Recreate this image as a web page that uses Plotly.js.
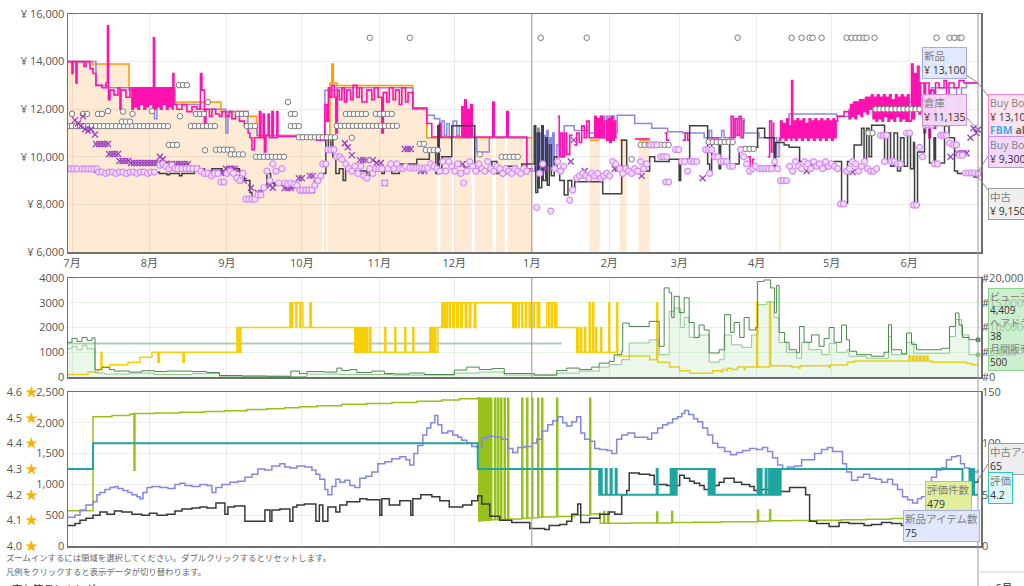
<!DOCTYPE html>
<html><head><meta charset="utf-8">
<script src="https://cdn.plot.ly/plotly-3.0.1.min.js"></script>
<style>html,body{margin:0;padding:0;background:#fff;overflow:hidden}#chart{width:1024px;height:586px}</style>
</head><body><div id="chart"></div>
<script>
// ---------- data (day offsets from 2024-06-29) ----------
const monthTicks = ['2024-07-01','2024-08-01','2024-09-01','2024-10-01','2024-11-01','2024-12-01','2025-01-01','2025-02-01','2025-03-01','2025-04-01','2025-05-01','2025-06-01'];
const monthLabels = ['7月','8月','9月','10月','11月','12月','1月','2月','3月','4月','5月','6月'];
const yearBoundary = '2025-01-01';

const priceTicks = [6000,8000,10000,12000,14000,16000];
const priceTickText = ['¥ 6,000','¥ 8,000','¥ 10,000','¥ 12,000','¥ 14,000','¥ 16,000'];
const salesTicks = [0,1000,2000,3000,4000];
const salesTickText = ['0','1000','2000','3000','4000'];
const rankTicks = [0,5000,10000,15000,20000];
const rankTickText = ['#0','#5,000','#10,000','#15,000','#20,000'];
const reviewTicks = [0,500,1000,1500,2000,2500];
const reviewTickText = ['0','500','1,000','1,500','2,000','2,500'];
const offerTicks = [0,50,100,150];
const offerTickText = ['0','50','100','150'];
const ratingTicks = [4.0,4.1,4.2,4.3,4.4,4.5,4.6];
const ratingTickText = ['4.0','4.1','4.2','4.3','4.4','4.5','4.6'];

const amazonPairs = [[0.4,14000],[10,13900],[24.8,12900],[43.2,12300],[61.6,11900],[72.4,11700],[76,10900],[102.2,null],[102.8,10900],[103.8,null],[104.3,10900],[105.2,13100],[106,13900],[106.6,13100],[108,13000],[138.4,12050],[144,10800],[148.4,null],[149.4,10800],[154,null],[155,10800],[162,null],[163.2,10800],[170.4,null],[171.6,10800],[175.2,null],[176.4,10800],[186.4,null],[209.2,10700],[213.2,null],[221.2,10700],[224,null],[228.8,10700],[233.2,null],[285,10700],[285.8,null]];

const newPairs = [[0.4,14000],[11.6,13000],[16,12900],[24.8,12800],[31,12600],[35,11600],[36,12800],[43.2,12200],[53,12000],[63.6,11000],[64.4,11900],[72.4,11300],[76,10900],[103.2,12800],[108,12900],[138.4,12000],[144,11750],[147,11600],[149.2,10800],[150,11500],[151,10900],[152,11400],[153,10800],[154.5,11500],[156,10900],[157,11300],[158,10800],[162.4,10800],[164,10200],[169,10800],[184,9400],[187.2,11000],[187.8,9400],[188.4,11200],[189,9300],[189.6,11000],[190.2,9500],[190.8,10900],[191.4,9300],[192,11100],[192.6,9600],[193.2,10800],[193.8,9500],[194.4,11000],[195,9800],[196,10500],[197.2,10000],[199,11300],[203,11100],[209,11000],[213.2,10800],[213.4,11700],[214,10800],[214.6,11700],[215.2,10800],[216,11700],[217,10900],[218,11700],[219,11000],[220.2,11750],[227.2,11400],[234,11200],[240.4,11050],[246.4,11000],[255,10800],[257,11100],[258,10800],[262,11100],[263,10800],[267,11600],[271,11000],[277,10800],[284,10000],[285,10800],[289,11800],[308,11700],[313,12000],[323,12300],[338,12600],[346,12900],[356,12400],[357,11600],[358,12900],[360,13100],[364.6,13100]];

const buyBoxPairs = [[0.4,14000],[2,13500],[2.4,14000],[3.6,13100],[4,14000],[6.8,13800],[7.6,14000],[9.2,13700],[10.4,13500],[11.6,13000],[14,12900],[15.6,13100],[16.2,15500],[16.6,12400],[17.2,12800],[18.8,12600],[20.4,12900],[21.2,12000],[21.6,12800],[23.6,12500],[25.2,12900],[26,12000],[26.6,12900],[27.2,12100],[27.8,12900],[28.4,12000],[29,12900],[29.6,12200],[30.2,12900],[30.8,12000],[31.4,12900],[32,12100],[32.6,12900],[33.2,12200],[33.8,12900],[34.4,12000],[34.6,15000],[35,12000],[35.6,12900],[36.2,12100],[36.8,12900],[37.4,12000],[38,12900],[38.6,12200],[39.2,12900],[39.8,12000],[40.4,12900],[41,12100],[41.6,12900],[42.2,12000],[42.4,13500],[42.8,12200],[44,12000],[46,12200],[48,11900],[50,12100],[52,12000],[53.4,13500],[54,12800],[55,11200],[55.6,12000],[57,11700],[58,12000],[59.5,11800],[61,11700],[62,11900],[63.5,11700],[65,11900],[66,11600],[67.5,11800],[69,11500],[71,11300],[72.5,11000],[73.2,10800],[74,10300],[75,10800],[77,11900],[77.6,10800],[78.5,11800],[79,10200],[79.6,10900],[80.5,11800],[81,10800],[82,11900],[82.6,10800],[84,11900],[84.4,10850],[100,10700],[103.2,12200],[104,11500],[104.6,12900],[105.2,12500],[106,13000],[107,12500],[107.6,11000],[108.2,12800],[109,12400],[110,12900],[111,12300],[112,12800],[113.5,12400],[114.5,13000],[116,12500],[117,12900],[118,12300],[120,12800],[122,12400],[123,12900],[124.5,12500],[126,11000],[126.6,12700],[128,12300],[129,12900],[130.5,12400],[131.5,12800],[133,12200],[134,12900],[135.5,12300],[136.5,12700],[138.4,12050],[144,11400],[146,10830],[149,11400],[149.6,10830],[158,12100],[158.6,10830],[159.2,12400],[159.8,10830],[160.4,12000],[161,10830],[161.6,12200],[162.2,10830],[170.4,12300],[171,10830],[176,11900],[176.6,10830],[184,9500],[186.4,null],[196.4,11700],[197,10000],[197.6,11000],[198.4,10000],[199.2,11000],[200,10100],[201.2,10900],[202.4,null],[203,10500],[204,11000],[205,10600],[206,11300],[207,10800],[208,11500],[209,10800],[211.2,11700],[211.8,10800],[212.4,11600],[213,10800],[213.6,11700],[214.2,10800],[215,11500],[216,10700],[216.6,11600],[217.2,10600],[217.8,11700],[218.4,10700],[219,11500],[219.6,10800],[220.2,null],[227.2,10750],[233.2,null],[239.2,11000],[240,10700],[241,null],[246.4,10700],[247.4,11000],[248.4,10700],[249.2,null],[257,10800],[261,null],[265,10800],[265.8,11700],[266.6,10800],[267.4,11600],[268.2,10900],[269,11700],[269.8,10800],[270.6,11500],[271.2,null],[272.4,10000],[273.4,9400],[274.4,9900],[275.2,null],[280.4,10000],[281.2,11500],[282,10200],[282.8,11400],[283.2,null],[285,10700],[285.6,11500],[286.2,10800],[286.8,11400],[287.4,10700],[288,11600],[288.6,10800],[289.2,11300],[289.8,10700],[290,13200],[290.4,10800],[291,11500],[291.6,10700],[292.2,11600],[292.8,10800],[293.4,11500],[294,10700],[294.6,11600],[295.2,10800],[295.8,11400],[296.4,10700],[297,11600],[297.6,10800],[298.2,11500],[298.8,10700],[299.4,11600],[300,10800],[300.6,11500],[301.2,10700],[301.8,11600],[302.4,10800],[303,11500],[303.6,10700],[304.2,11600],[304.8,10800],[305.4,11500],[306,10700],[306.6,11600],[307.2,10800],[307.8,11500],[308.4,11700],[311,11900],[313,11600],[313.6,12200],[314.2,11700],[314.8,12300],[315.4,11600],[316,12300],[316.6,11800],[317.2,12400],[317.8,11700],[318.4,12400],[319,11900],[319.6,12500],[320.2,11800],[320.8,12500],[321.4,12000],[322,12600],[322.6,11600],[323.2,12500],[323.8,11500],[324.4,12600],[325,11600],[325.6,12500],[326.2,11500],[326.8,12600],[327.4,11700],[328,12500],[328.6,11500],[329.2,12600],[329.8,11600],[330.4,12400],[331,11500],[331.6,12600],[332.2,11700],[332.8,12500],[333.4,11500],[334,12600],[334.6,11600],[335.2,12500],[335.8,11500],[336.4,12600],[337,11500],[338,13900],[338.6,11600],[339.2,13500],[339.8,12000],[340.4,13800],[341,11800],[341.6,13100],[343,11000],[343.6,13100],[345,10800],[345.6,12800],[347,11200],[347.6,13100],[349,12900],[351,13200],[352,12500],[353,13100],[355,12900],[357,13200],[359,13100],[364.6,13100]];

const usedPairs = [[0.4,9450],[11,9350],[37,9300],[40,9250],[41,9300],[45,9200],[46,9300],[51,9500],[55,9300],[58,9500],[62,9300],[66,9500],[69,9400],[71,9000],[73.2,8500],[74,8300],[78,8700],[80,9300],[81.5,8900],[83,8800],[87,8700],[93,8500],[99,9000],[101,9300],[103.6,10800],[104.6,10200],[105.6,10800],[106.4,10000],[107.6,9300],[109,9500],[110.5,9000],[111.5,9500],[113,9400],[120,9200],[121,9400],[126,9300],[127,9500],[130,9300],[133,9700],[140,9900],[145,10200],[147.6,9300],[148.4,11300],[149,9500],[150,10000],[154,11300],[163.2,9500],[165,9400],[170,9800],[172,9300],[176,9600],[180,9400],[182,9700],[187,11300],[187.6,8500],[188.4,11000],[189,8700],[190,11300],[190.6,9000],[191.6,10800],[192.2,8800],[193,10500],[193.8,9200],[195,10000],[196,9500],[197.2,9000],[199,8400],[200.5,9000],[202,8600],[203.2,8950],[214.4,8450],[222,10700],[224,9400],[233.2,10000],[235.2,9800],[241,9900],[245,9000],[245.6,9900],[249.2,11300],[256.4,9700],[257.2,9300],[258,10700],[261,9500],[261.6,10700],[265.2,9700],[269,10400],[276.4,11200],[279.2,10800],[283,9600],[283.6,10600],[287,10500],[289,10400],[293.2,9800],[297,9500],[298,9800],[300,9600],[303,9500],[305,9700],[307,9800],[310,8060],[312.4,9800],[315,10500],[318,11200],[319,9800],[320,11200],[321,10000],[322,11330],[327.2,9800],[328.4,11000],[329.6,9600],[331,11000],[332.4,9400],[333.6,10800],[335,9600],[336.4,11000],[337.6,9500],[338.8,10600],[339.2,7970],[340.4,10200],[343.2,11300],[345.2,9740],[347,10800],[347.6,9740],[351.2,11300],[353,10800],[355.2,9400],[356.4,9300],[363,9150],[364.6,9150]];

const grayCirclePairs = [[0.4,11290],[2,11290],[3.6,11290],[5.2,11290],[6.8,11290],[8.4,11290],[10,11290],[11.6,11290],[13.2,11290],[14.8,11290],[16.4,11290],[18,11290],[19.6,11290],[21.2,11290],[22.8,11290],[24.4,11290],[26,11290],[27.6,11290],[29.2,11290],[30.8,11290],[32.4,11290],[34,11290],[35.6,11290],[37.2,11290],[38.8,11290],[40.4,11290],[2,11800],[6.4,11800],[8,11800],[12.4,11800],[14,11800],[16.4,11920],[22.4,11900],[26.2,11800],[34,11920],[22,11480],[23.6,11480],[25.2,11480],[40.8,10500],[42.4,10500],[44,10500],[44.8,13010],[46.4,13010],[48,13010],[45.2,11700],[49.6,11290],[51.2,11290],[52.8,11290],[54.4,11290],[56,11290],[57.6,11290],[59.2,11290],[51.6,11800],[53.2,11800],[54.8,11800],[56.4,12300],[55.2,10280],[59.6,10300],[61.2,10300],[62.8,10300],[64.4,10300],[66,10300],[65.6,10100],[67.2,10100],[68.8,10100],[70.4,10100],[68.4,11800],[70,11800],[71.6,11800],[72,11290],[73.6,11290],[75.2,11290],[75.6,10000],[77.2,10000],[78.8,10000],[80.4,10000],[82,10000],[83.6,10000],[85.2,10000],[86.8,10000],[88.4,12300],[89.6,11800],[91.2,11800],[89.6,11290],[91.2,11290],[92.8,11290],[92.8,10820],[94.4,10820],[96,10820],[97.6,10820],[99.2,10820],[100.8,10820],[102.4,10820],[104,10820],[105.6,10820],[107.2,10820],[108,11300],[109.6,11300],[111.2,11300],[112.8,11300],[114.4,11300],[116,11300],[117.6,11300],[119.2,11300],[120.8,11300],[122.4,11300],[124,11300],[125.6,11300],[127.2,11300],[128.8,11300],[130.4,11300],[132,11300],[111.6,11800],[113.2,11800],[114.8,11800],[116.4,11800],[118,11800],[119.6,11800],[123.6,11800],[125.2,11800],[126.8,11800],[128.4,11800],[130,11800],[114,10800],[121.2,15000],[137.2,15000],[141.2,10540],[142.8,10540],[143.6,10280],[145.2,10280],[146.8,10280],[148.4,10280],[165.2,10100],[174,10000],[175.6,10000],[177.2,10000],[178.8,10000],[180.4,10000],[189.6,15000],[208,15000],[226,9900],[229.6,10500],[231.2,10500],[232.8,10500],[234.4,10500],[236,10500],[237.6,10500],[239.2,10500],[240.8,10500],[256.8,10620],[258.4,10620],[260,10620],[261.6,10620],[263.2,10620],[264.8,10620],[266.4,10620],[268.4,15000],[271.6,10330],[273.2,10330],[274.8,10330],[290,15000],[294,15000],[297.2,15000],[298.4,15000],[302,15000],[312,15000],[314,15000],[315.6,15000],[317.2,15000],[318.8,15000],[320,15000],[323.2,15000],[348,15000],[353.2,15000],[355.2,15000],[357.2,15000],[358,15000],[320.8,11000],[322.4,11000],[323.6,12000],[325.2,12000],[326.8,12000],[328.4,12000],[330,12000],[331.6,12000],[333.2,12000],[334.8,12000],[336.4,12000],[338,12000],[339.6,12000],[341.2,12000],[343.6,11400],[345.2,11400],[346.8,11400],[348.4,11400],[350,11400],[351.6,11400],[353.2,11400]];

const usedBuyBoxPairs = [[0.4,9490],[1.6,9490],[2.8,9490],[4,9490],[6,9490],[7.2,9490],[8.4,9490],[9.6,9490],[10.8,9490],[12,9490],[12.6,9360],[14,9360],[15.4,9300],[16.8,9360],[18.2,9360],[19.6,9300],[21,9360],[22.4,9360],[23.8,9300],[25.2,9360],[26.6,9360],[28,9300],[29.4,9360],[30.8,9360],[32.2,9300],[33.6,9360],[35,9360],[37.2,9650],[38.4,9700],[39.6,9600],[40.8,9500],[42,9650],[43.2,9500],[44.4,9500],[46,9500],[47.6,9500],[49,9500],[50.4,9500],[52,9500],[53.6,9400],[55,9300],[56.4,9300],[57.8,9200],[59,9300],[60.4,9300],[61.6,8940],[62.8,8940],[64,9300],[65.4,9400],[66.6,9300],[68,9100],[69.2,9000],[70.4,9300],[71.6,8220],[72.8,8220],[74,8220],[75.2,8220],[76.4,8400],[77.6,8400],[78.8,8700],[80,9400],[81.2,9000],[82.4,9700],[83.6,9400],[84.8,8900],[86,9500],[87.2,8900],[88.4,8850],[89.6,8900],[90.8,8850],[92,8800],[93.2,8600],[94.4,8600],[95.6,8600],[96.8,8600],[98,8600],[99.2,8800],[100.4,9000],[101.6,9200],[102.4,9700],[103.6,9700],[104.4,10300],[105.6,10300],[106.8,10300],[108,10000],[109.2,10000],[110,9900],[111.6,9700],[112.8,9500],[114,9400],[115.2,9600],[116.4,9300],[117.6,9600],[118.8,9200],[120,9100],[121.2,9500],[122.4,9300],[123.6,9500],[124.8,9500],[126,9500],[127.2,8900],[128.4,9500],[129.6,9700],[130.8,9500],[132,9700],[133.2,9500],[134.4,9500],[135.6,9600],[137.2,9530],[138.4,9530],[139.6,9530],[140.8,9530],[142,9530],[143.2,9530],[144.4,9530],[145.6,9700],[146.8,9600],[148,9500],[149.2,9400],[150.4,9800],[151.6,9400],[152.8,9800],[154,9600],[155.2,9400],[156.4,9700],[157.6,9300],[158.8,8900],[160,9400],[161.2,9800],[162.4,9600],[163.6,9400],[164.8,9700],[166,9500],[167.2,9400],[168.4,9800],[169.6,9500],[170.8,9400],[172,9600],[173.2,9500],[174.4,9300],[175.6,9500],[176.8,9400],[178,9300],[179.2,9500],[180.4,9400],[181.6,9300],[182.8,9500],[184,9400],[188,7870],[189.2,9300],[190.4,9700],[193.6,7720],[195.2,9500],[196.4,9800],[197.6,9400],[198.8,9600],[201.2,8180],[202.4,8600],[204,9100],[205.2,9200],[206.4,9300],[207.6,9200],[208.8,9100],[210,9300],[211.2,9200],[212.4,9300],[213.6,9100],[214.8,9200],[216,9300],[217.2,9200],[218.4,9800],[219.6,9700],[221.2,9500],[222.4,9300],[223.6,9500],[224.8,9400],[226,9300],[227.2,9500],[228.4,9400],[229.6,9800],[230.8,9500],[232,9700],[233.6,10500],[234.8,10500],[236,10500],[237.6,10000],[238.8,10000],[240,10000],[239.6,8940],[240.8,8940],[243.6,10300],[244.8,10300],[246,9800],[247.2,9800],[248.4,9400],[249.6,9800],[250.8,9800],[252,9800],[255.6,10300],[256.8,10300],[258,10300],[259.2,10000],[260.4,10000],[257.2,9300],[261.6,9800],[262.8,9800],[264,9800],[265.2,9600],[266.4,9600],[269.6,10300],[270.8,10000],[272,9700],[273.2,9400],[274.4,9500],[275.6,9600],[277.2,9500],[278.4,9500],[279.6,9500],[280.8,9500],[282,9500],[283.2,9800],[284.4,9500],[285.6,9000],[286.8,9000],[288,9000],[289.2,9600],[290.4,9400],[291.6,9800],[292.8,9600],[294,9500],[295.2,9800],[296.4,9700],[297.6,9500],[298.8,9800],[300,9600],[301.2,9700],[302.4,9500],[303.6,9800],[304.8,9600],[306,9700],[307.2,9600],[308.4,9500],[309.6,8020],[310.8,8020],[312,9400],[313.2,9500],[314.4,9800],[315.6,9700],[316.8,9400],[318,9600],[319.2,9800],[320.4,9500],[321.6,9400],[322.8,9400],[324,9500],[325.6,10900],[326.8,10900],[328,10900],[327.2,9800],[330,9800],[331.2,9800],[332.4,9700],[333.6,9700],[336,11000],[337.2,11000],[338.8,7970],[340,7970],[341.2,10400],[342.4,10000],[343.6,11330],[344.8,11330],[346,11330],[347.2,9700],[348.4,9700],[349.6,10900],[350.8,10900],[352,10900],[353.2,10570],[354.8,10500],[356,10500],[357.2,10070],[358.4,10070],[359.6,9320],[360.8,9320],[362,9320],[363.2,9320],[364.6,9300]];

const warehousePairs = [[3.2,11540],[4.4,11400],[5.6,11300],[6.4,11700],[7.2,11160],[8.4,11100],[9.6,11160],[11.2,10940],[11.6,10540],[12.8,10540],[14,10540],[15.2,10540],[16.4,10540],[16.8,10120],[18,10120],[19.2,10120],[20.4,10120],[21,9820],[22.2,9820],[23.4,9820],[24.6,9820],[25.6,9740],[26.8,9740],[28,9740],[29.2,9740],[30.4,9740],[31.6,9740],[32.8,9740],[34,9740],[35.2,9740],[36.4,9740],[37.2,10000],[38.4,9900],[39.6,9700],[40.8,9700],[42,9700],[43.6,9700],[44.8,9700],[46,9700],[47.2,9700],[48.4,9700],[49.6,9500],[50.8,9500],[52,9500],[55.6,9320],[56.8,9320],[58,9320],[59.2,9320],[60.4,9320],[61.6,9320],[63.6,9500],[64.8,9500],[66,9500],[67.2,9500],[69.6,9300],[70.8,9000],[73.6,8700],[76.4,8480],[77.6,8480],[81.2,8800],[82.4,8700],[87.2,8690],[88.4,8690],[89.6,8690],[92.8,9100],[94,9100],[97.2,9200],[98.4,9200],[111.2,10570],[112.4,10400],[114,10070],[117.2,9860],[118.4,9860],[119.6,9860],[122.4,9860],[124,9740],[125.6,9740],[127.2,8900],[135.2,10330],[136.4,10330],[137.6,10330],[141.6,9400],[143,9400],[158.4,9700],[159.6,9500],[191.6,9500],[201.6,9800],[202.8,10700],[207.2,9400],[219.2,9500],[220.4,9500],[223.6,9500],[230,9200],[254.4,9100],[296,9400],[314.4,9360],[353.6,10000],[356.4,10150],[357.6,10150],[358.8,10150],[360,10150],[361.6,10800],[362.8,11200],[364,11000],[364.6,11135]];

const monthlySoldPairs = [[0.4,100],[8.4,200],[12.4,300],[13.6,1000],[14,400],[17.2,500],[24.4,600],[29.2,800],[34,1000],[36.4,600],[37,1000],[46.4,600],[47,1000],[68,2000],[68.4,1000],[68.8,2000],[69.2,1000],[69.6,2000],[89.2,3000],[89.8,2000],[90.4,3000],[91.6,2000],[92,3000],[93.2,2000],[93.6,3000],[94.4,2000],[97.2,3000],[97.8,2000],[115.2,1000],[115.6,2000],[116,1000],[116.4,2000],[116.8,1000],[117.4,2000],[117.8,1000],[118.4,2000],[119,1000],[119.6,2000],[120.2,1000],[121,2000],[121.6,1000],[127.2,2000],[127.6,1000],[131.2,2000],[131.6,1000],[135.2,2000],[135.6,1000],[138.4,2000],[138.8,1000],[145.2,2000],[145.6,1000],[146,2000],[146.6,1000],[147.2,2000],[147.6,1000],[148.4,2000],[150,3000],[150.6,2000],[151,3000],[151.6,2000],[152.2,3000],[153,2000],[153.4,3000],[154.4,2000],[155,3000],[156,2000],[156.6,3000],[157.6,2000],[158.2,3000],[159.4,2000],[160,3000],[161,2000],[161.6,3000],[163,2000],[163.6,3000],[178.4,2000],[178.8,3000],[179.4,2000],[179.8,3000],[180.6,2000],[181,3000],[182,2000],[182.4,3000],[183.4,2000],[183.8,3000],[185,2000],[185.4,3000],[186.6,2000],[187,3000],[188.2,2000],[188.6,3000],[189.2,2000],[192,3000],[192.8,2000],[193.2,3000],[194,2000],[194.4,3000],[195.2,2000],[195.6,3000],[196,2000],[204,1000],[204.4,2000],[204.8,1000],[205.6,2000],[206,1000],[207.2,2000],[207.6,1000],[209,3000],[209.4,1000],[210.4,3000],[210.8,1000],[211.6,2000],[212,1000],[213.6,2000],[214,1000],[216.8,3000],[217.2,1000],[220,3000],[220.4,850],[233.2,700],[236,3000],[236.4,600],[241.2,400],[245.2,250],[249.2,150],[258.4,250],[262,200],[262.4,300],[264,250],[264.4,350],[266,300],[268.4,400],[271,300],[271.4,400],[276,3000],[276.4,400],[281.2,3000],[281.6,450],[290,400],[293,350],[293.4,450],[300,450],[305,380],[305.4,480],[311,500],[312.4,600],[315,650],[337,850],[337.6,650],[338.4,850],[339,650],[339.8,850],[340.4,650],[341.2,850],[341.8,650],[342.6,850],[343.2,650],[344,850],[344.6,650],[346,600],[355,600],[360,550],[362,500],[364.6,500]];

const referencePairs = [[0.4,1350],[198,1350]];

const categoryRankPairs = [[0.4,7000],[2,7800],[4,7200],[6,8000],[8,7400],[10,7900],[11.2,1470],[14,1900],[17,1500],[19,1200],[25,1000],[30,1270],[35,1100],[40,1200],[50,1100],[56,900],[61,300],[70,200],[80,150],[89.6,1200],[93,700],[96,1100],[103,1000],[108,1800],[110,1300],[113,1500],[116,900],[122,1200],[127,700],[131,600],[137,800],[143,500],[155,1400],[160,2000],[165,1500],[170,1700],[175,700],[187,400],[196,1300],[200,1800],[205,1500],[210,2000],[213,2800],[217,3150],[219,4500],[222,5200],[222.4,10900],[225,10200],[233,11240],[237,6200],[239,18000],[241,17000],[242,12000],[243,16300],[245,13000],[247,16000],[249,11000],[251,8000],[253,10500],[255,9500],[257,4850],[261,5500],[263.2,12600],[265.6,9000],[267,11000],[269.2,8000],[271,12000],[273,9500],[275.6,10000],[276.4,19300],[279,19600],[281.6,18000],[283.2,13000],[284,18500],[285,9000],[287.2,7000],[289,5500],[292,4900],[293.2,10200],[295,7000],[298,8500],[301,6200],[303,7800],[305,10000],[307,7000],[310,10500],[312,7500],[313.2,5200],[316,4500],[322,4200],[327,5000],[328.8,10560],[330,5500],[334,4700],[336,8900],[338,6600],[340,5500],[350,5800],[353.2,10200],[355.6,12930],[357,10500],[358.4,8000],[361,7540],[364.6,7540]];

const beautyRankPairs = [[0.4,5800],[2,6200],[4,5500],[6,6400],[8,5700],[11.2,800],[15,600],[25,800],[35,500],[50,700],[61,150],[88,100],[96,600],[110,500],[130,400],[155,800],[165,1000],[175,400],[196,800],[205,1200],[213,2000],[217,2500],[222,3500],[225,6870],[233,7500],[237,4500],[241,13250],[243,13940],[245.6,10000],[247,12000],[249,8000],[253,8500],[257,3000],[261,3500],[263,8500],[266,6500],[270,6000],[274,8500],[276.4,14600],[280,15200],[283,12000],[285,7000],[288,5000],[292,3800],[294,7000],[297,5500],[302,4500],[305,6800],[308,5000],[312,5500],[313,4200],[320,3800],[328.8,8200],[330,4500],[336,7000],[339,4800],[350,4800],[353.2,8200],[355.6,11600],[358,8500],[361,4500],[364.6,4500]];

const reviewCountPairs = [[0.4,573],[10.4,2100],[18,2120],[25,2140],[26.6,2150],[26.8,1230],[27.2,2150],[35,2160],[45,2170],[55,2185],[63,2196],[72,2215],[80,2230],[87,2245],[93,2260],[100,2275],[110,2300],[120,2315],[130,2330],[140,2350],[150,2370],[157,2390],[164.4,2407],[164.8,406],[165.4,2400],[165.8,410],[166.4,2400],[166.8,415],[167.2,2400],[167.8,420],[168.4,2400],[169,420],[169.4,2400],[170,425],[171.2,2400],[171.6,425],[172.4,2400],[172.8,430],[173.6,2400],[174,430],[175,2400],[175.4,435],[176.4,2400],[176.8,440],[182,2400],[182.4,450],[184,2400],[184.4,455],[186,2400],[186.4,460],[188.4,2400],[188.8,465],[190,2400],[190.4,470],[196,2400],[196.4,480],[203,500],[209.2,2400],[209.6,520],[213,530],[213.4,368],[214.8,560],[215.2,370],[216.4,560],[216.8,370],[225,372],[236,550],[236.4,375],[242,560],[242.4,380],[250,385],[262,392],[276.4,580],[276.8,400],[281.2,590],[281.6,410],[290,415],[300,420],[310,428],[320,436],[330,445],[340,452],[347,460],[355,468],[364.6,479]];

const ratingPairs = [[0.4,4.3],[10.4,4.4],[164.4,4.3],[213,4.2],[213.6,4.3],[214,4.2],[215.6,4.3],[216,4.2],[217.6,4.3],[218,4.2],[219.6,4.3],[220,4.2],[236,4.3],[236.4,4.2],[241.6,4.3],[242,4.2],[242.4,4.3],[242.8,4.2],[243.2,4.3],[243.6,4.2],[244,4.3],[256.8,4.2],[257.2,4.3],[257.6,4.2],[258,4.3],[258.4,4.2],[258.8,4.3],[259.2,4.2],[276.4,4.3],[276.8,4.2],[277.6,4.3],[278,4.2],[279.6,4.3],[280,4.2],[281,4.3],[281.4,4.2],[282,4.3],[282.4,4.2],[283.2,4.3],[283.6,4.2],[284.4,4.3],[284.8,4.2],[285.6,4.3],[358.4,4.2],[361.2,4.3],[362,4.2],[362.4,4.3],[363,4.2],[364.6,4.2]];

const newOfferPairs = [[0.4,28],[3.2,30],[5.2,35],[7.6,40],[10.4,43],[12,50],[13.2,52],[15.2,55],[17.2,57],[19.2,58],[20.4,56],[22.4,54],[24.4,52],[26,50],[28,48],[29.2,46],[30.4,52],[32,57],[34,58],[37.2,57],[40.4,56],[43.2,60],[45.2,61],[47.2,59],[50,58],[53.2,60],[56,59],[58,52],[59.6,57],[62,60],[65.2,62],[68.4,63],[71.2,67],[74,70],[76.4,75],[79.2,74],[82,78],[85.2,80],[87.2,77],[89.2,76],[92,78],[95.2,77],[98,74],[99.6,70],[101.2,65],[103.2,55],[104.4,50],[106,58],[107.6,65],[109.2,62],[111.2,64],[113.2,59],[115.2,57],[117.2,66],[119.6,68],[122,72],[124.4,80],[127.2,82],[130,85],[133.2,87],[135.6,84],[137.2,79],[138.8,90],[140.4,98],[142.4,108],[144,115],[145.6,120],[147.2,127],[148.4,118],[150,110],[152.4,112],[154.4,108],[156.4,106],[158,103],[160,100],[162,97],[164,96],[166,105],[168,107],[171.2,106],[174,104],[176.4,95],[178.4,91],[180.4,96],[183.2,97],[186,100],[188,104],[190,112],[192.4,118],[194.4,122],[196.4,126],[198.4,120],[200,117],[202,121],[204,126],[205.6,110],[207.2,104],[209.2,102],[211.2,95],[213.2,94],[216,93],[218,90],[220,104],[222,108],[224.4,110],[227.2,106],[230,106],[232.4,104],[234,110],[236.4,115],[238.4,118],[240.4,120],[242.4,124],[244.4,126],[246,129],[247.2,132],[248.8,128],[250.8,124],[252.4,121],[254.4,115],[256.4,108],[258.4,100],[260.4,96],[263.2,92],[265.6,89],[268,91],[270.4,93],[273.2,95],[276,94],[278.4,96],[280.4,92],[282.4,86],[284.4,79],[286.4,75],[288.4,77],[291.2,78],[294,84],[296.4,84],[299.2,90],[302,94],[304.4,96],[306.4,92],[308.4,92],[310.4,80],[312,72],[314,64],[316.4,67],[318.8,70],[321.2,66],[323.6,65],[326,62],[328.4,65],[330.4,60],[332.4,55],[334.4,48],[336.4,45],[338.4,42],[340.4,46],[342,48],[344,58],[346,67],[348,74],[350,76],[352,84],[354,87],[356,88],[357.6,80],[359.2,76],[361.2,74],[363.2,72],[364.6,75]];

const usedOfferPairs = [[0.4,20],[3.2,22],[5.2,25],[7.6,27],[10.4,30],[13.2,33],[16,31],[19,34],[22,33],[26,31],[30,30],[33,32],[36,30],[40,31],[43.2,34],[46,36],[50,37],[53.2,38],[56,37],[59.6,42],[63.2,31],[64.4,38],[67,39],[71.2,24],[76.4,24],[79.2,35],[81.2,24],[82,35],[85.2,36],[89.2,24],[90.4,38],[92,40],[95,41],[99.6,24],[101,40],[102.4,24],[104.4,38],[107.6,33],[109.2,40],[112,43],[117.2,46],[120,45],[125.2,30],[126,46],[129,40],[133.2,44],[137.6,30],[138.4,46],[141.6,50],[146,48],[149.2,44],[153,38],[158.4,40],[162,44],[164.4,49],[166,41],[169.2,29],[173.2,25],[178,23],[185.2,17],[191.2,16],[193,20],[197.2,21],[200,24],[202,31],[204.4,41],[205.6,23],[209.2,27],[213.2,31],[217,33],[219.2,31],[222,50],[224,54],[225,71],[229,70],[233.2,69],[235,60],[240,59],[245.2,69],[247,66],[249.2,63],[251,61],[253.2,59],[255,55],[257.2,59],[261,62],[263,66],[267,62],[270,60],[273.2,58],[275,54],[278,55],[283,53],[286,53],[289.2,57],[294,57],[295.6,50],[297.2,24],[300,22],[305,19],[309,23],[313,22],[319,20],[322,21],[326,23],[330,22],[334,20],[338,22],[342,25],[344,37],[346,30],[350,28],[356,40],[357.6,58],[361.2,62],[364.6,65]];

// ---------- helpers ----------
const START = Date.UTC(2024,5,29);
function toDate(d){ return new Date(START + d*86400000).toISOString().slice(0,19).replace('T',' '); }
function stepXY(pairs){ const x=[],y=[]; let prev=null; for(const p of pairs){ if(p[1]===null && prev!==null){ x.push(toDate(p[0])); y.push(prev);} x.push(toDate(p[0])); y.push(p[1]); prev=p[1]; } return {x,y}; }
function ptsXY(pairs){ return {x:pairs.map(p=>toDate(p[0])), y:pairs.map(p=>p[1])}; }
function lastOf(pairs){ const p=pairs[pairs.length-1]; return {x:[toDate(p[0])], y:[p[1]]}; }
function splitSegments(pairs){ const out=[]; let cur=[]; for(const p of pairs){ if(p[1]===null){ if(cur.length){ cur.push([p[0], cur[cur.length-1][1]]); out.push(cur); cur=[]; } } else cur.push(p); } if(cur.length) out.push(cur); return out; }

const FONT = "'Open Sans','Noto Sans CJK JP',sans-serif";
const tickFont = {family:FONT, size:11, color:'#555'};
const W=1024, H=586;
const px = v => v/W, py = v => 1 - v/H;

function line(pairs, color, width, xa, ya, extra){ const d=stepXY(pairs); return Object.assign({type:'scatter', mode:'lines', x:d.x, y:d.y, xaxis:xa, yaxis:ya, line:{color:color, width:width, shape:'hv'}, connectgaps:false, hoverinfo:'skip'}, extra||{}); }
function marks(pairs, symbol, size, fill, outline, lw, xa, ya){ const d=ptsXY(pairs); return {type:'scatter', mode:'markers', x:d.x, y:d.y, xaxis:xa, yaxis:ya, marker:{symbol:symbol, size:size, color:fill, line:{color:outline, width:lw}}, hoverinfo:'skip'}; }

const amazonTraces = splitSegments(amazonPairs).map(s => line(s, '#ff9900', 1.5, 'x', 'y', {fill:'tozeroy', fillcolor:'rgba(255,150,50,0.2)'}));

const traces = amazonTraces.concat([
  line(newPairs, '#8a8ae2', 1.5, 'x', 'y'),
  line(buyBoxPairs, '#ff12b0', 1.6, 'x', 'y'),
  line(usedPairs, '#404040', 1.5, 'x', 'y'),
  marks(grayCirclePairs, 'circle', 5.5, '#ffffff', '#7a7a7a', 1, 'x', 'y'),
  marks(warehousePairs, 'x-thin', 6, '#9b3fc0', '#9b3fc0', 1.3, 'x', 'y'),
  marks(usedBuyBoxPairs, 'circle', 6, '#f6dcff', '#d48cf5', 1.2, 'x', 'y'),

  line(referencePairs, 'rgba(150,190,150,0.75)', 2, 'x2', 'y3'),
  line(beautyRankPairs, '#8ec98e', 1, 'x2', 'y4', {fill:'tozeroy', fillcolor:'rgba(150,215,150,0.2)'}),
  line(categoryRankPairs, '#4c874c', 1, 'x2', 'y4'),
  line(monthlySoldPairs, '#f8cf06', 1.5, 'x2', 'y3'),
  Object.assign({type:'scatter', mode:'markers', xaxis:'x2', yaxis:'y4', marker:{size:5, color:'#4c874c'}, hoverinfo:'skip'}, lastOf(categoryRankPairs)),
  Object.assign({type:'scatter', mode:'markers', xaxis:'x2', yaxis:'y4', marker:{size:5, color:'#8ec98e'}, hoverinfo:'skip'}, lastOf(beautyRankPairs)),

  line(reviewCountPairs, '#97c21c', 1.5, 'x3', 'y5'),
  line(ratingPairs, '#1fa4a0', 2, 'x3', 'y7'),
  line(newOfferPairs, '#8585e2', 1.5, 'x3', 'y6'),
  line(usedOfferPairs, '#383838', 1.5, 'x3', 'y6')
]);

const X0 = 68/W, X1 = 981/W;
const xRange = [toDate(0.4), toDate(365.8)];
const frame = {showline:true, mirror:true, linecolor:'#6f6f6f', linewidth:1.5, zeroline:false, automargin:false, ticks:''};
const xBase = Object.assign({domain:[X0,X1], type:'date', range:xRange, tickmode:'array', tickvals:monthTicks, ticktext:monthLabels, showgrid:true, gridcolor:'#eaeaea', tickfont:tickFont}, frame);

const box = (x, y, text, bg, border, size) => ({xref:'paper', yref:'paper', x:px(x), y:py(y), xanchor:'left', yanchor:'top', text:text, showarrow:false, align:'left', bgcolor:bg, bordercolor:border, borderwidth:1, borderpad:1, font:{family:FONT, size:size||10.5, color:'#333'}});
const t = s => '<span style="color:#808080">'+s+'</span>';

const annotations = [
  box(922, 47, t('新品')+'<br>¥ 13,100', 'rgba(226,232,252,0.95)', '#a3abee'),
  box(922, 94, t('倉庫')+'<br>¥ 11,135', 'rgba(244,214,246,0.95)', '#d08fd9'),
  box(988, 94, t('Buy Box')+'<br>¥ 13,100<br><b><span style="color:#4aa8e8">FBM</span> <span style="color:#666">ale</span></b>', '#ffe3f1', '#ff86c6'),
  box(988, 136, t('Buy Box')+'<br>¥ 9,300', '#f2d8ff', '#c48bf0'),
  box(988, 188, t('中古')+'<br>¥ 9,150', '#efefef', '#9b9b9b'),
  box(988, 288, t('ビューティー')+'<br>4,409<br>'+t('ヘアドライヤー')+'<br>38<br>'+t('月間販売数')+'<br>500', 'rgba(185,232,185,0.72)', '#8fcf8f', 10),
  box(988, 443, t('中古アイテム数')+'<br>65', 'rgba(236,236,236,0.95)', '#9b9b9b'),
  box(988, 472, t('評価')+'<br>4.2', '#dcf7f5', '#36c3bd'),
  box(925, 481, t('評価件数')+'<br>479', '#e1ee9e', '#b5d14b'),
  box(903, 510, t('新品アイテム数')+'<br>75', 'rgba(224,230,252,0.95)', '#a6aef0'),
  {xref:'paper', yref:'paper', x:px(4), y:py(557), xanchor:'left', yanchor:'middle', showarrow:false, text:'ズームインするには領域を選択してください。ダブルクリックするとリセットします。', font:{family:FONT, size:8.4, color:'#666'}},
  {xref:'paper', yref:'paper', x:px(4), y:py(571), xanchor:'left', yanchor:'middle', showarrow:false, text:'凡例をクリックすると表示データが切り替わります。', font:{family:FONT, size:8.4, color:'#666'}},
  {xref:'paper', yref:'paper', x:px(4), y:py(580), xanchor:'left', yanchor:'top', showarrow:false, text:'- 売れ筋ランキング', font:{family:FONT, size:10.5, color:'#333'}},
  {xref:'paper', yref:'paper', x:px(984), y:py(578), xanchor:'left', yanchor:'top', showarrow:false, text:'+ 6月', font:{family:FONT, size:11, color:'#333'}}
];

const seg = (x0,y0,x1,y1,c,w) => ({type:'line', xref:'paper', yref:'paper', x0:px(x0), y0:py(y0), x1:px(x1), y1:py(y1), line:{color:c||'#8a8a8a', width:w||1}});
const shapes = [
  {type:'line', xref:'x', yref:'y domain', x0:yearBoundary, x1:yearBoundary, y0:0, y1:1, line:{color:'#a8a8a8', width:1.2}},
  {type:'line', xref:'x2', yref:'y3 domain', x0:yearBoundary, x1:yearBoundary, y0:0, y1:1, line:{color:'#a8a8a8', width:1.2}},
  {type:'line', xref:'x3', yref:'y5 domain', x0:yearBoundary, x1:yearBoundary, y0:0, y1:1, line:{color:'#a8a8a8', width:1.2}},
  seg(978, 14, 978, 586, '#9a9a9a', 1),
  seg(980, 572, 1024, 572, '#cfcfcf', 1),
  seg(965, 74, 978, 83), seg(978, 83, 988, 96),
  seg(966, 117, 978, 130),
  seg(978, 172, 988, 156),
  seg(978, 177, 988, 190),
  seg(978, 480, 988, 464),
  seg(966, 505, 978, 517)
];

const starText = ratingTickText.map(s => s + ' <span style="color:#f4b400;font-size:13px">★</span>');

const layout = {
  width:W, height:H, margin:{l:0,r:0,t:0,b:0}, paper_bgcolor:'#ffffff', plot_bgcolor:'#ffffff',
  showlegend:false, hovermode:false, font:{family:FONT, size:11, color:'#555'},
  xaxis: Object.assign({}, xBase, {anchor:'y'}),
  xaxis2: Object.assign({}, xBase, {anchor:'y3', matches:'x', showticklabels:false}),
  xaxis3: Object.assign({}, xBase, {anchor:'y5', matches:'x', showticklabels:false}),
  yaxis: Object.assign({domain:[py(252), py(14)], anchor:'x', range:[6000,16000], tickmode:'array', tickvals:priceTicks, ticktext:priceTickText, showgrid:true, gridcolor:'#ececec', tickfont:tickFont}, frame),
  yaxis3: Object.assign({domain:[py(377), py(278)], anchor:'x2', range:[0,4000], tickmode:'array', tickvals:salesTicks, ticktext:salesTickText, showgrid:true, gridcolor:'#e2f5e2', tickfont:tickFont}, frame),
  yaxis4: {overlaying:'y3', anchor:'x2', side:'right', range:[0,20000], tickmode:'array', tickvals:rankTicks, ticktext:rankTickText, showgrid:false, showline:false, zeroline:false, automargin:false, ticks:'', tickfont:tickFont},
  yaxis5: Object.assign({domain:[py(546), py(392)], anchor:'x3', range:[0,2500], tickmode:'array', tickvals:reviewTicks, ticktext:reviewTickText, showgrid:true, gridcolor:'#efefef', tickfont:tickFont}, frame),
  yaxis6: {overlaying:'y5', anchor:'x3', side:'right', range:[0,150], tickmode:'array', tickvals:offerTicks, ticktext:offerTickText, showgrid:false, showline:false, zeroline:false, automargin:false, ticks:'', tickfont:tickFont},
  yaxis7: {overlaying:'y5', anchor:'free', position:38/W, side:'left', range:[4.0,4.6], tickmode:'array', tickvals:ratingTicks, ticktext:starText, showgrid:false, showline:false, zeroline:false, automargin:false, ticks:'', tickfont:tickFont},
  annotations: annotations,
  shapes: shapes
};

Plotly.newPlot('chart', traces, layout, {displayModeBar:false, staticPlot:true});
</script>
</body></html>
